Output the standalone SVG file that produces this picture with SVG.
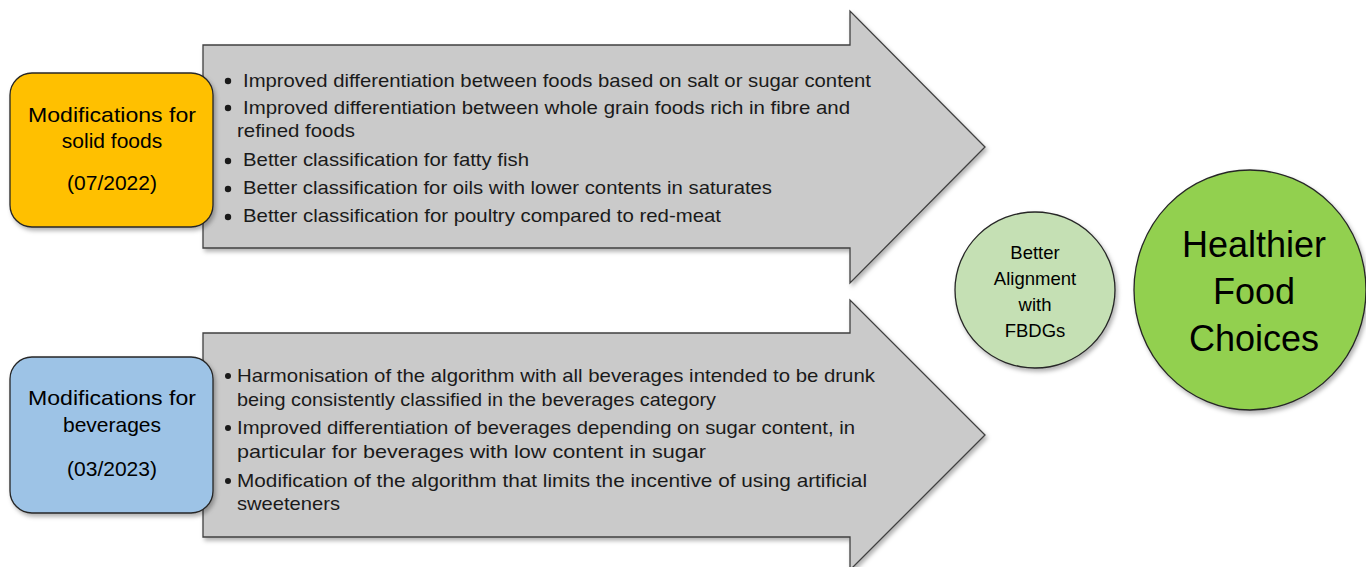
<svg xmlns="http://www.w3.org/2000/svg" width="1366" height="567" viewBox="0 0 1366 567">
<defs>
<filter id="sh" x="-10%" y="-10%" width="130%" height="130%">
<feDropShadow dx="2" dy="3" stdDeviation="2" flood-color="#000" flood-opacity="0.3"/>
</filter>
<style>
.arrow{fill:#cacaca;stroke:#404040;stroke-width:1.3}
.box{stroke:#262626;stroke-width:1.3}
.t{font-family:"Liberation Sans",Arial,sans-serif;fill:#000}
.bt{font-family:"Liberation Sans",Arial,sans-serif;font-size:18.5px;fill:#1a1a1a}
</style>
</defs>
<rect width="1366" height="567" fill="#fff"/>
<g id="connectors">
<path id="arrow-top" class="arrow" filter="url(#sh)" d="M203,45 H850 V11 L985,147 L850,283 V248 H203 Z"/>
<path id="arrow-bottom" class="arrow" filter="url(#sh)" d="M203,333 H850 V300 L985,435 L850,570 V537 H203 Z"/>
</g>
<g id="solid-bullets">
<circle cx="228" cy="81" r="3.2" fill="#1a1a1a"/>
<text class="bt" x="243" y="87" textLength="628" lengthAdjust="spacingAndGlyphs">Improved differentiation between foods based on salt or sugar content</text>
<circle cx="228" cy="108" r="3.2" fill="#1a1a1a"/>
<text class="bt" x="243" y="114" textLength="607" lengthAdjust="spacingAndGlyphs">Improved differentiation between whole grain foods rich in fibre and</text>
<text class="bt" x="237" y="137" textLength="118" lengthAdjust="spacingAndGlyphs">refined foods</text>
<circle cx="228" cy="161" r="3.2" fill="#1a1a1a"/>
<text class="bt" x="243" y="166" textLength="286" lengthAdjust="spacingAndGlyphs">Better classification for fatty fish</text>
<circle cx="228" cy="189" r="3.2" fill="#1a1a1a"/>
<text class="bt" x="243" y="194" textLength="529" lengthAdjust="spacingAndGlyphs">Better classification for oils with lower contents in saturates</text>
<circle cx="228" cy="217" r="3.2" fill="#1a1a1a"/>
<text class="bt" x="243" y="222" textLength="478" lengthAdjust="spacingAndGlyphs">Better classification for poultry compared to red-meat</text>
</g>
<g id="beverage-bullets">
<circle cx="228" cy="376" r="3" fill="#1a1a1a"/>
<text class="bt" x="237" y="382" textLength="638" lengthAdjust="spacingAndGlyphs">Harmonisation of the algorithm with all beverages intended to be drunk</text>
<text class="bt" x="237" y="406" textLength="479" lengthAdjust="spacingAndGlyphs">being consistently classified in the beverages category</text>
<circle cx="228" cy="428" r="3" fill="#1a1a1a"/>
<text class="bt" x="237" y="434" textLength="618" lengthAdjust="spacingAndGlyphs">Improved differentiation of beverages depending on sugar content, in</text>
<text class="bt" x="237" y="458" textLength="469" lengthAdjust="spacingAndGlyphs">particular for beverages with low content in sugar</text>
<circle cx="228" cy="481" r="3" fill="#1a1a1a"/>
<text class="bt" x="237" y="487" textLength="630" lengthAdjust="spacingAndGlyphs">Modification of the algorithm that limits the incentive of using artificial</text>
<text class="bt" x="237" y="510" textLength="103" lengthAdjust="spacingAndGlyphs">sweeteners</text>
</g>
<g id="solid-foods">
<rect class="box" filter="url(#sh)" x="10" y="73" width="203" height="154" rx="22" fill="#ffc000"/>
<text class="t" font-size="21" text-anchor="middle" x="112" y="122" textLength="168" lengthAdjust="spacingAndGlyphs">Modifications for</text>
<text class="t" font-size="21" text-anchor="middle" x="112" y="148">solid foods</text>
<text class="t" font-size="21" text-anchor="middle" x="112" y="190">(07/2022)</text>
</g>
<g id="beverages">
<rect class="box" filter="url(#sh)" x="10" y="357" width="203" height="156" rx="22" fill="#9dc3e6"/>
<text class="t" font-size="21" text-anchor="middle" x="112" y="405" textLength="168" lengthAdjust="spacingAndGlyphs">Modifications for</text>
<text class="t" font-size="21" text-anchor="middle" x="112" y="432">beverages</text>
<text class="t" font-size="21" text-anchor="middle" x="112" y="476">(03/2023)</text>
</g>
<g id="alignment">
<ellipse class="box" filter="url(#sh)" cx="1035" cy="290" rx="80" ry="78" fill="#c5e0b4"/>
<text class="t" font-size="18.5" text-anchor="middle" x="1035" y="259">Better</text>
<text class="t" font-size="18.5" text-anchor="middle" x="1035" y="285">Alignment</text>
<text class="t" font-size="18.5" text-anchor="middle" x="1035" y="311">with</text>
<text class="t" font-size="18.5" text-anchor="middle" x="1035" y="337">FBDGs</text>
</g>
<g id="healthier">
<ellipse class="box" filter="url(#sh)" cx="1250" cy="290" rx="116" ry="120" fill="#92d050"/>
<text class="t" font-size="36" text-anchor="middle" x="1254" y="257">Healthier</text>
<text class="t" font-size="36" text-anchor="middle" x="1254" y="304">Food</text>
<text class="t" font-size="36" text-anchor="middle" x="1254" y="351">Choices</text>
</g>
</svg>
